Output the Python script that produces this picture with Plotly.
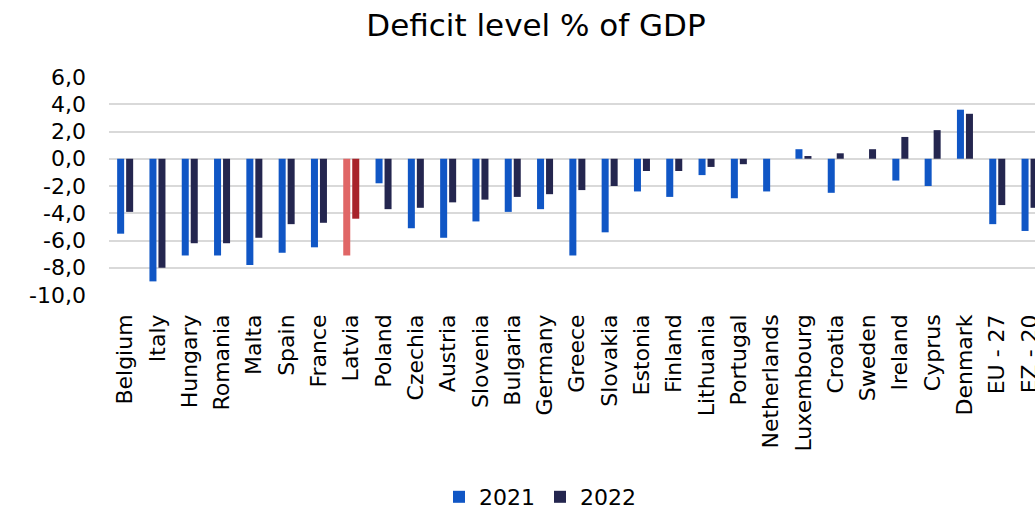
import plotly.graph_objects as go

# General government balance, % of GDP
countries = [
    "Belgium", "Italy", "Hungary", "Romania", "Malta", "Spain", "France",
    "Latvia", "Poland", "Czechia", "Austria", "Slovenia", "Bulgaria",
    "Germany", "Greece", "Slovakia", "Estonia", "Finland", "Lithuania",
    "Portugal", "Netherlands", "Luxembourg", "Croatia", "Sweden", "Ireland",
    "Cyprus", "Denmark", "EU - 27", "EZ - 20",
]
balance_2021 = [
    -5.5, -9.0, -7.1, -7.1, -7.8, -6.9, -6.5,
    -7.1, -1.8, -5.1, -5.8, -4.6, -3.9,
    -3.7, -7.1, -5.4, -2.4, -2.8, -1.2,
    -2.9, -2.4, 0.7, -2.5, 0.0, -1.6,
    -2.0, 3.6, -4.8, -5.3,
]
balance_2022 = [
    -3.9, -8.0, -6.2, -6.2, -5.8, -4.8, -4.7,
    -4.4, -3.7, -3.6, -3.2, -3.0, -2.8,
    -2.6, -2.3, -2.0, -0.9, -0.9, -0.6,
    -0.4, 0.0, 0.2, 0.4, 0.7, 1.6,
    2.1, 3.3, -3.4, -3.6,
]
y_tick_values = [6, 4, 2, 0, -2, -4, -6, -8, -10]
y_tick_labels = ["6,0", "4,0", "2,0", "0,0", "-2,0", "-4,0", "-6,0", "-8,0", "-10,0"]

highlight = "Latvia"
blue_2021, navy_2022 = "#1056c5", "#24264f"
red_2021, red_2022 = "#e06666", "#a8232a"

colors_2021 = [red_2021 if c == highlight else blue_2021 for c in countries]
colors_2022 = [red_2022 if c == highlight else navy_2022 for c in countries]

FONT = "DejaVu Sans, Verdana, sans-serif"
CAT_PX = 32.3  # horizontal room per country group

fig = go.Figure()
fig.add_trace(go.Bar(
    x=countries, y=balance_2021, name="2021",
    marker=dict(color=colors_2021, line=dict(width=0)),
))
fig.add_trace(go.Bar(
    x=countries, y=balance_2022, name="2022",
    marker=dict(color=colors_2022, line=dict(width=0)),
))

fig.update_layout(
    width=1035, height=512,
    margin=dict(l=109, r=0, t=77, b=217, autoexpand=False),
    paper_bgcolor="white", plot_bgcolor="white",
    font=dict(family=FONT, size=22, color="#000000"),
    barmode="group", bargap=0.443, bargroupgap=0.22,
    title=dict(
        text="Deficit level % of GDP",
        font=dict(family=FONT, size=31, color="#000000"),
        x=536 / 1035, xref="container", xanchor="center",
        y=1 - 25 / 512, yref="container", yanchor="middle",
    ),
    showlegend=True,
    legend=dict(
        orientation="h",
        x=540 / 1035, xref="container", xanchor="center",
        y=1 - 497 / 512, yref="container", yanchor="middle",
        font=dict(family=FONT, size=22, color="#000000"),
        itemwidth=30, traceorder="normal",
    ),
)

fig.update_xaxes(
    type="category", automargin=False,
    range=[-0.5, -0.5 + 926 / CAT_PX],
    tickangle=-90,
    ticks="", showgrid=False, showline=False, zeroline=False,
    ticklabelstandoff=14,
    tickfont=dict(family=FONT, size=22, color="#000000"),
)
fig.update_yaxes(
    automargin=False,
    range=[-10, 6],
    tickvals=y_tick_values, ticktext=y_tick_labels,
    showgrid=True, gridcolor="#d9d9d9", gridwidth=1.5,
    zeroline=True, zerolinecolor="#d9d9d9", zerolinewidth=1.5,
    showline=False, ticks="",
    ticklabelstandoff=22,
    tickfont=dict(family=FONT, size=22, color="#000000"),
)

fig.write_html("out.html")
